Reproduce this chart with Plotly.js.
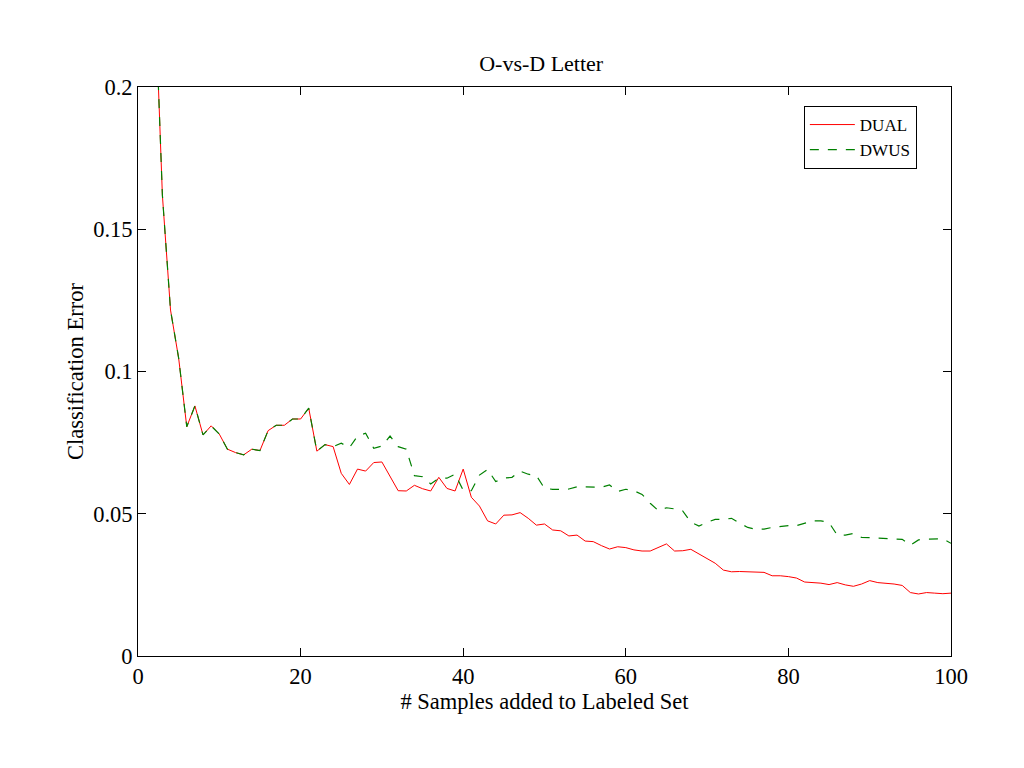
<!DOCTYPE html>
<html>
<head>
<meta charset="utf-8">
<script src="https://cdn.plot.ly/plotly-3.0.1.min.js"></script>
<style>html,body{margin:0;padding:0;background:#fff;}</style>
</head>
<body>
<div id="chart" style="width:1024px;height:768px;"></div>
<script>
// Number of samples added to the labeled set
const samples = [2,3,4,5,6,7,8,9,10,11,12,13,14,15,16,17,18,19,20,21,22,23,24,25,26,27,28,29,30,
  31,32,33,34,35,36,37,38,39,40,41,42,43,44,45,46,47,48,49,50,51,52,53,54,55,56,57,58,59,60,
  61,62,63,64,65,66,67,68,69,70,71,72,73,74,75,76,77,78,79,80,81,82,83,84,85,86,87,88,89,90,
  91,92,93,94,95,96,97,98,99,100];

// Shared start of both curves (x = 2..24)
const sharedStart = [0.240,0.162,0.1216,0.1047,0.0806,0.0879,0.0777,0.0809,0.0780,0.0727,0.0715,
  0.0707,0.0727,0.0722,0.0792,0.0811,0.0811,0.0833,0.0833,0.0871,0.0720,0.0743,0.0736];

// DUAL error from x = 25 onwards
const dualTail = [0.0642,0.0603,0.0657,0.0650,0.0680,0.0682,0.0630,0.0581,0.0580,0.0600,
  0.0588,0.0580,0.0628,0.0589,0.0580,0.0657,0.0558,0.0527,0.0475,0.0464,
  0.0495,0.0496,0.0504,0.0484,0.0460,0.0464,0.0443,0.0440,0.0422,0.0425,
  0.0404,0.0402,0.0388,0.0376,0.0384,0.0381,0.0373,0.0369,0.0369,0.0381,
  0.0394,0.0369,0.0370,0.0375,0.0358,0.0343,0.0326,0.0302,0.0296,0.0297,
  0.0296,0.0293,0.0294,0.0282,0.0282,0.0279,0.0274,0.0260,0.0259,0.0256,
  0.0251,0.0258,0.0250,0.0245,0.0253,0.0265,0.0258,0.0256,0.0253,0.0248,
  0.0223,0.0218,0.0223,0.0221,0.0219,0.0221];

// DWUS error from x = 25 onwards
const dwusTail = [0.0748,0.0732,0.0773,0.0783,0.0730,0.0738,0.0773,0.0736,0.0727,0.0634,
  0.0630,0.0605,0.0625,0.0625,0.0639,0.0583,0.0581,0.0636,0.0656,0.0613,
  0.0625,0.0628,0.0650,0.0639,0.0634,0.0589,0.0586,0.0586,0.0587,0.0595,
  0.0595,0.0595,0.0593,0.0601,0.0578,0.0586,0.0581,0.0568,0.0537,0.0511,
  0.0521,0.0517,0.0510,0.0470,0.0457,0.0470,0.0480,0.0480,0.0484,0.0467,
  0.0452,0.0445,0.0446,0.0452,0.0456,0.0458,0.0458,0.0466,0.0475,0.0475,
  0.0469,0.0425,0.0425,0.0431,0.0417,0.0416,0.0415,0.0414,0.0412,0.0410,
  0.0389,0.0408,0.0411,0.0412,0.0412,0.0396];

const dual = sharedStart.concat(dualTail);
const dwus = sharedStart.concat(dwusTail);

const xTicks = [0,20,40,60,80,100];
const yTicks = [0,0.05,0.1,0.15,0.2];
const yTickText = ['0','0.05','0.1','0.15','0.2'];

const serif = 'Liberation Serif, Times New Roman, serif';

const traces = [
  {x: samples, y: dual, name: 'DUAL', mode: 'lines', type: 'scatter',
   line: {color: '#ff0000', width: 1}},
  {x: samples, y: dwus, name: 'DWUS', mode: 'lines', type: 'scatter',
   line: {color: '#008000', width: 1.2, dash: 'dash'}}
];

const axisCommon = {
  showgrid: false, zeroline: false, showline: true, mirror: 'ticks',
  linecolor: '#000', linewidth: 1, ticks: 'inside', ticklen: 8,
  tickcolor: '#000', tickwidth: 1,
  tickfont: {family: serif, size: 22.5, color: '#000'}
};

const layout = {
  width: 1024, height: 768,
  paper_bgcolor: '#fff', plot_bgcolor: '#fff',
  margin: {l: 138, r: 73, t: 87, b: 112},
  title: {text: 'O-vs-D Letter', font: {family: serif, size: 22, color: '#000'},
          x: 0.5285, xanchor: 'center', y: 0.918, yanchor: 'middle'},
  xaxis: Object.assign({}, axisCommon, {
    range: [0, 100], tickvals: xTicks, ticktext: xTicks.map(String),
    title: {text: '# Samples added to Labeled Set', standoff: 0,
            font: {family: serif, size: 22.5, color: '#000'}}
  }),
  yaxis: Object.assign({}, axisCommon, {
    range: [0, 0.2], tickvals: yTicks, ticktext: yTickText,
    title: {text: 'Classification Error', standoff: 3,
            font: {family: serif, size: 22.5, color: '#000'}}
  }),
  showlegend: true,
  legend: {
    x: 0.819, y: 0.9666, xanchor: 'left', yanchor: 'top',
    bgcolor: '#fff', bordercolor: '#000', borderwidth: 1,
    font: {family: serif, size: 17, color: '#000'},
    tracegroupgap: 0, itemwidth: 45
  }
};

Plotly.newPlot('chart', traces, layout, {displayModeBar: false, staticPlot: true});
</script>
</body>
</html>
